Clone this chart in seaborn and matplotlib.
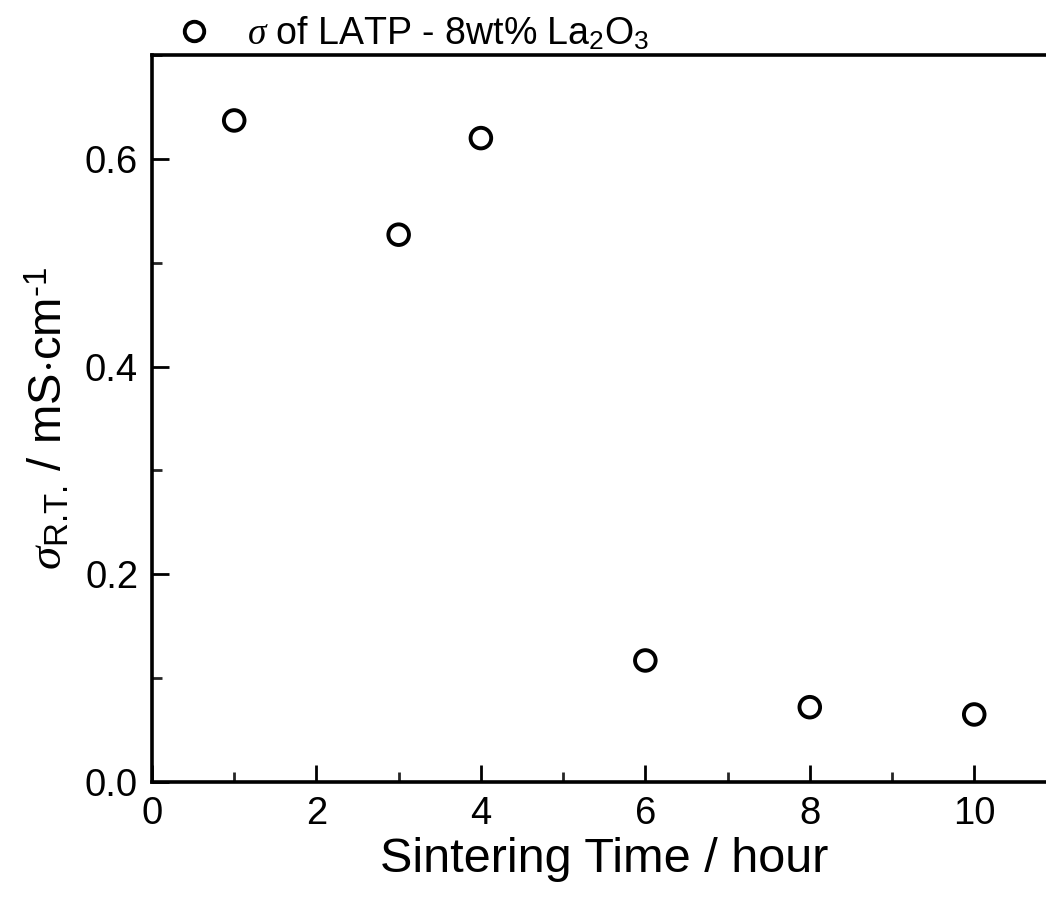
import matplotlib
matplotlib.use("Agg")
import matplotlib.pyplot as plt
import seaborn as sns
import pandas as pd
from matplotlib.ticker import MultipleLocator

sintering_time = [1, 3, 4, 6, 8, 10]
conductivity = [0.637, 0.527, 0.620, 0.117, 0.072, 0.065]
series_label = r"$\sigma$ of LATP - 8wt% La$_2$O$_3$"

sns.set_theme(style="ticks")
plt.rcParams['font.family'] = ['Liberation Sans', 'DejaVu Sans']
plt.rcParams['mathtext.fontset'] = 'custom'
plt.rcParams['mathtext.rm'] = 'Liberation Sans'
plt.rcParams['mathtext.it'] = 'Liberation Serif:italic'
plt.rcParams['mathtext.bf'] = 'Liberation Sans:bold'
plt.rcParams['text.color'] = 'black'
plt.rcParams['axes.labelcolor'] = 'black'

df = pd.DataFrame({"time": sintering_time, "sigma": conductivity})

fig = plt.figure(figsize=(10.46, 9.08), dpi=100)
ax = fig.add_axes([0.1453, 0.1388, 1.0 - 0.1453 + 0.01, 0.8006])

sns.scatterplot(data=df, x="time", y="sigma", ax=ax, marker="o", s=220,
                facecolor="none", edgecolor="black", linewidth=2.8,
                legend=False)

ax.set_xlim(0, 11)
ax.set_ylim(0, 0.7)
ax.xaxis.set_major_locator(MultipleLocator(2))
ax.xaxis.set_minor_locator(MultipleLocator(1))
ax.yaxis.set_minor_locator(MultipleLocator(0.1))
ax.set_yticks([0.0, 0.2, 0.4, 0.6])
ax.set_yticklabels(["0.0", "0.2", "0.4", "0.6"])

ax.tick_params(axis="both", which="major", direction="in", length=12, width=2,
               labelsize=27.5, colors="black", pad=10)
ax.tick_params(axis="both", which="minor", direction="in", length=7, width=2)

for side in ["left", "bottom", "top"]:
    ax.spines[side].set_linewidth(2.6)
    ax.spines[side].set_color("black")
ax.spines["right"].set_visible(False)

ax.set_xlabel("Sintering Time / hour", fontsize=35, labelpad=4)
ax.set_ylabel(r"$\sigma_{\text{R.T.}}$ / mS$\cdot$cm$^{\text{-1}}$", fontsize=34, labelpad=9)

handle = plt.Line2D([], [], marker="o", linestyle="none", markersize=14,
                    markerfacecolor="none", markeredgecolor="black", markeredgewidth=2.8)
fig.legend([handle], [series_label], loc="center left",
           bbox_to_anchor=(0.168, 0.963), frameon=False, fontsize=27,
           handletextpad=0.9, handlelength=1.0, borderpad=0, borderaxespad=0)

fig.savefig("out.png", dpi=100)
